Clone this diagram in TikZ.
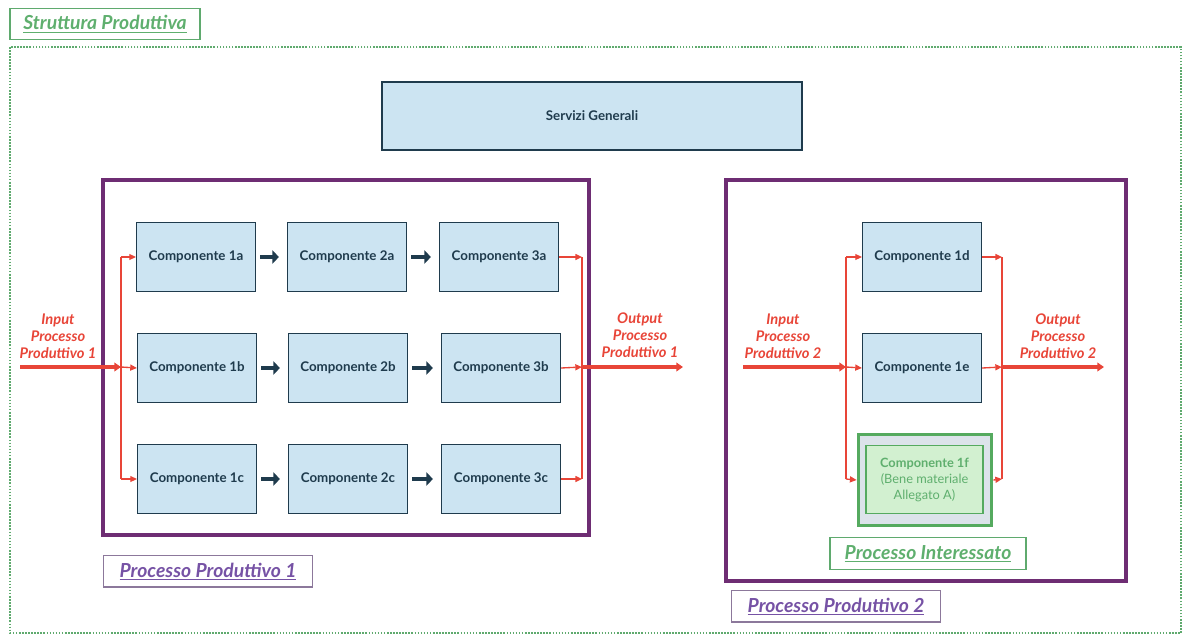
\documentclass[tikz,border=0pt]{standalone}
\usepackage{fontspec}
\setmainfont{Lato}
\usetikzlibrary{arrows.meta}
\definecolor{navy}{RGB}{31,59,77}
\definecolor{lblue}{RGB}{204,228,242}
\definecolor{pred}{RGB}{232,69,56}
\definecolor{ppurple}{RGB}{110,45,115}
\definecolor{tpurple}{RGB}{118,82,165}
\definecolor{lpurple}{RGB}{140,120,155}
\definecolor{ggreen}{RGB}{95,170,110}
\definecolor{tgreen}{RGB}{95,175,110}
\definecolor{bgreen}{RGB}{85,170,95}
\definecolor{ggrey}{RGB}{220,227,234}
\definecolor{lgreen}{RGB}{210,240,208}
\begin{document}
\begin{tikzpicture}[x=0.75pt,y=-0.75pt,
  comp/.style={draw=navy,fill=lblue,line width=1.1pt,minimum width=89pt,minimum height=51.5pt,inner sep=0pt,font=\fontsize{10}{12}\selectfont\bfseries,text=navy},
  frame/.style={draw=ppurple,line width=2.8pt},
  redthick/.style={draw=pred,line width=2.5pt,-{Triangle[length=5pt,width=6.5pt]}},
  redthin/.style={draw=pred,line width=1pt},
  redarr/.style={redthin,-{Triangle[length=5pt,width=4.5pt]}},
  bluearr/.style={draw=navy,line width=3.5pt,-{Triangle[length=5pt,width=10pt]}},
  lab/.style={font=\fontsize{11}{12.75}\selectfont\bfseries\itshape,text=pred,align=center},
  tagbox/.style={line width=1pt,minimum height=23.5pt,inner sep=0pt,font=\fontsize{14.5}{16}\selectfont\bfseries\itshape}
]
\useasboundingbox (0,0) rectangle (1184,635);
% outer structure
\draw[ggreen,line width=1.8pt,dash pattern=on 1.2pt off 1.1pt] (10,47) rectangle (1181,633);
\node[tagbox,draw=ggreen,text=tgreen,minimum width=142.5pt] (title) at (105,24) {\underline{Struttura Produttiva}};
% servizi generali
\node[comp,minimum width=315pt,minimum height=51pt] (serv) at (592,116) {Servizi Generali};
% process 1
\draw[frame] (103,180) rectangle (589,535);
\node[tagbox,draw=lpurple,text=tpurple,minimum width=156.5pt,anchor=north west] (pp1) at (103,555) {\underline{Processo Produttivo 1}};
\node[comp] (c1a) at (196,257) {Componente 1a};
\node[comp] (c2a) at (347,257) {Componente 2a};
\node[comp] (c3a) at (499,257) {Componente 3a};
\node[comp] (c1b) at (197,368) {Componente 1b};
\node[comp] (c2b) at (348,368) {Componente 2b};
\node[comp] (c3b) at (501,368) {Componente 3b};
\node[comp] (c1c) at (197,479) {Componente 1c};
\node[comp] (c2c) at (348,479) {Componente 2c};
\node[comp] (c3c) at (501,479) {Componente 3c};
\foreach \r in {a,b,c}{
  \draw[bluearr] ([xshift=3pt]c1\r.east) -- ([xshift=-6pt]c2\r.west);
  \draw[bluearr] ([xshift=3pt]c2\r.east) -- ([xshift=-6pt]c3\r.west);
}
\coordinate (in1) at (20,367);
\coordinate (j1) at (121,367);
\coordinate (j1a) at (121,257);
\coordinate (j1c) at (121,479);
\coordinate (o1a) at (582,257);
\coordinate (o1b) at (582,367);
\coordinate (o1c) at (582,479);
\coordinate (out1) at (683,367);
\draw[redthin] (j1a) -- (j1c);
\draw[redarr] (j1a) -- (c1a.west);
\draw[redarr] (j1) -- (c1b.west);
\draw[redarr] (j1c) -- (c1c.west);
\draw[redthick] (in1) -- (j1);
\draw[redthin] (o1a) -- (o1c);
\draw[redarr] (c3a.east) -- (o1a);
\draw[redarr] (c3b.east) -- (o1b);
\draw[redarr] (c3c.east) -- (o1c);
\draw[redthick] (o1b) -- (out1);
\node[lab] (lin1) at (58,336) {Input\\Processo\\Produttivo 1};
\node[lab] (lout1) at (640,335) {Output\\Processo\\Produttivo 1};
% process 2
\draw[frame] (726,180) rectangle (1126,581);
\node[tagbox,draw=lpurple,text=tpurple,minimum width=156.5pt,anchor=north west] (pp2) at (731,590) {\underline{Processo Produttivo 2}};
\node[comp] (c1d) at (922,257) {Componente 1d};
\node[comp] (c1e) at (922,368) {Componente 1e};
\node[draw=bgreen,fill=ggrey,line width=2.6pt,minimum width=100pt,minimum height=68pt,inner sep=0pt] (c1fo) at (925,480) {};
\node[draw=bgreen,fill=lgreen,line width=1.1pt,minimum width=88pt,minimum height=51pt,inner sep=0pt,align=center,text=tgreen,font=\fontsize{9.6}{12}\selectfont] (c1f) at (924.5,479.5) {\textbf{Componente 1f}\\(Bene materiale\\Allegato A)};
\node[tagbox,draw=ggreen,text=tgreen,minimum width=147pt,line width=0.8pt] (pint) at (928,553.5) {\underline{Processo Interessato}};
\coordinate (in2) at (743,367);
\coordinate (j2) at (846,367);
\coordinate (j2a) at (846,257);
\coordinate (j2c) at (846,479);
\coordinate (o2a) at (1002,257);
\coordinate (o2b) at (1002,367);
\coordinate (o2c) at (1002,479);
\coordinate (out2) at (1104,367);
\draw[redthin] (j2a) -- (j2c);
\draw[redarr] (j2a) -- (c1d.west);
\draw[redarr] (j2) -- (c1e.west);
\draw[redarr] (j2c) -- (c1fo.west);
\draw[redthick] (in2) -- (j2);
\draw[redthin] (o2a) -- (o2c);
\draw[redarr] (c1d.east) -- (o2a);
\draw[redarr] (c1e.east) -- (o2b);
\draw[redarr] (c1fo.east) -- (o2c);
\draw[redthick] (o2b) -- (out2);
\node[lab] (lin2) at (783,336) {Input\\Processo\\Produttivo 2};
\node[lab] (lout2) at (1058,336) {Output\\Processo\\Produttivo 2};
\end{tikzpicture}
\end{document}
